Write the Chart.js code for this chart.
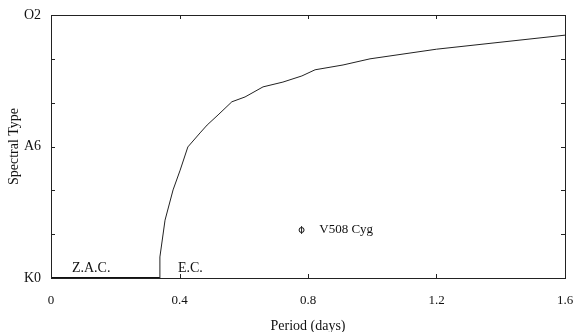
<!DOCTYPE html>
<html>
<head>
<script src="https://cdn.jsdelivr.net/npm/chart.js@4"></script>
<style>
  html, body { margin: 0; background: #ffffff; }
  #wrap { width: 576px; height: 332px; }
</style>
</head>
<body>
<div id="wrap"><canvas id="chart"></canvas></div>
<script>
// contact boundary curve (period in days vs spectral type index, K0=0 .. O2=6)
const periodDays = [0.339, 0.339, 0.355, 0.380, 0.402, 0.426, 0.464, 0.486, 0.520, 0.563, 0.604, 0.660, 0.722, 0.781, 0.822, 0.909, 0.993, 1.2, 1.6];
const spectralIdx = [0, 0.48, 1.32, 2.01, 2.46, 2.99, 3.31, 3.49, 3.72, 4.02, 4.13, 4.36, 4.47, 4.61, 4.75, 4.86, 5.00, 5.22, 5.54];
// zero-age contact segment along the bottom
const zacPeriod = [0, 0.339];
const zacSpec = [0, 0];
// V508 Cyg
const starPeriod = [0.78];
const starSpec = [1.095];
const starErr = [0.09];
const xTicks = [0, 0.4, 0.8, 1.2, 1.6];
const yTickNames = {0: 'K0', 3: 'A6', 6: 'O2'};

const serif = '"Liberation Serif", "DejaVu Serif", serif';

const framePlugin = {
  id: 'frame',
  afterDatasetsDraw(chart) {
    const ctx = chart.ctx, a = chart.chartArea;
    const xs = chart.scales.x, ys = chart.scales.y;
    ctx.save();
    ctx.strokeStyle = '#222';
    ctx.lineWidth = 1;
    ctx.strokeRect(a.left + 0.5, a.top + 0.5, a.right - a.left, a.bottom - a.top);
    // inward ticks
    ctx.beginPath();
    xTicks.forEach(v => {
      const px = Math.round(xs.getPixelForValue(v)) + 0.5;
      ctx.moveTo(px, a.bottom); ctx.lineTo(px, a.bottom - 4);
      ctx.moveTo(px, a.top); ctx.lineTo(px, a.top + 4);
    });
    for (let v = 0; v <= 6; v++) {
      const py = Math.round(ys.getPixelForValue(v)) + 0.5;
      ctx.moveTo(a.left, py); ctx.lineTo(a.left + 4, py);
      ctx.moveTo(a.right, py); ctx.lineTo(a.right - 4, py);
    }
    ctx.stroke();
    // error bar of V508 Cyg
    ctx.beginPath();
    starPeriod.forEach((p, i) => {
      const px = xs.getPixelForValue(p);
      ctx.moveTo(px, ys.getPixelForValue(starSpec[i] - starErr[i]));
      ctx.lineTo(px, ys.getPixelForValue(starSpec[i] + starErr[i]));
    });
    ctx.stroke();
    // annotations
    ctx.fillStyle = '#111';
    ctx.font = '13px ' + serif;
    ctx.textBaseline = 'middle';
    ctx.textAlign = 'left';
    ctx.fillText('V508 Cyg', xs.getPixelForValue(0.835), ys.getPixelForValue(starSpec[0]));
    ctx.font = '14px ' + serif;
    ctx.fillText('Z.A.C.', xs.getPixelForValue(0.065), ys.getPixelForValue(0.22));
    ctx.fillText('E.C.', xs.getPixelForValue(0.395), ys.getPixelForValue(0.22));
    ctx.restore();
  }
};

new Chart(document.getElementById('chart'), {
  type: 'scatter',
  data: {
    datasets: [
      {
        data: periodDays.map((p, i) => ({x: p, y: spectralIdx[i]})),
        showLine: true, borderColor: '#222', borderWidth: 1, pointRadius: 0, tension: 0
      },
      {
        data: zacPeriod.map((p, i) => ({x: p, y: zacSpec[i]})),
        showLine: true, borderColor: '#111', borderWidth: 2, pointRadius: 0, clip: false
      },
      {
        data: starPeriod.map((p, i) => ({x: p, y: starSpec[i]})),
        pointRadius: 2.5, pointBackgroundColor: '#fff', borderColor: '#111', borderWidth: 1
      }
    ]
  },
  plugins: [framePlugin],
  options: {
    responsive: true,
    maintainAspectRatio: false,
    animation: false,
    layout: { padding: { top: 15, right: 11, left: 0, bottom: 0 } },
    plugins: { legend: { display: false }, tooltip: { enabled: false } },
    scales: {
      x: {
        type: 'linear', min: 0, max: 1.6,
        grid: { display: false, drawTicks: false },
        border: { display: false },
        afterBuildTicks: s => { s.ticks = xTicks.map(v => ({value: v})); },
        afterFit: s => { s.height = 54; s.paddingLeft = 0; s.paddingRight = 0; },
        ticks: {
          color: '#111', padding: 15, maxRotation: 0,
          font: { family: serif, size: 13 },
          callback: v => (v === 0 ? '0' : v.toFixed(1))
        },
        title: {
          display: true, text: 'Period (days)', color: '#111',
          font: { family: serif, size: 14 }, padding: { top: 0, bottom: -3 }
        }
      },
      y: {
        type: 'linear', min: 0, max: 6,
        grid: { display: false, drawTicks: false },
        border: { display: false },
        afterBuildTicks: s => { s.ticks = [0, 3, 6].map(v => ({value: v})); },
        afterFit: s => { s.width = 51; s.paddingTop = 0; s.paddingBottom = 0; },
        ticks: {
          color: '#111', padding: 10,
          font: { family: serif, size: 14 },
          callback: v => yTickNames[v] || ''
        },
        title: {
          display: true, text: 'Spectral Type', color: '#111',
          font: { family: serif, size: 14 }, padding: { top: 6, bottom: 0 }
        }
      }
    }
  }
});
</script>
</body>
</html>
